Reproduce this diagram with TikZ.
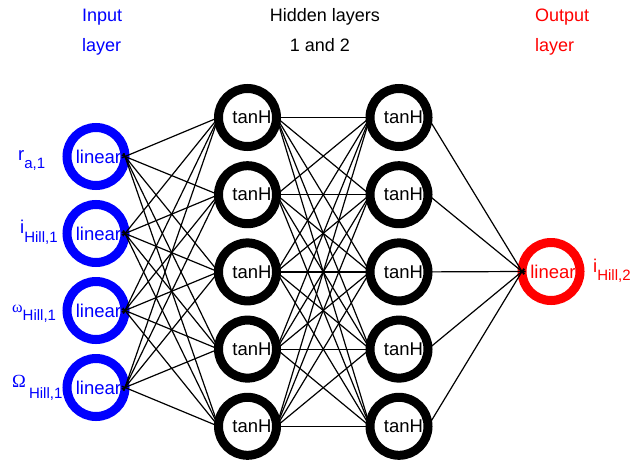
\documentclass[tikz,border=0pt]{standalone}
\usepackage{fontspec}
\setmainfont{Liberation Sans}
\newfontfamily\grk{Liberation Serif}
\newcommand\sublbl[3]{#1\raisebox{#3}{\fontsize{15}{15}\selectfont #2}}
\begin{document}
\begin{tikzpicture}[x=1pt,y=-1pt,
  neuron/.style={circle,line width=9pt,minimum size=58pt,inner sep=0pt,outer sep=0pt,font=\fontsize{18.5}{20}\selectfont},
  inl/.style={neuron,draw=blue,text=blue},
  hid/.style={neuron,draw=black},
  outl/.style={neuron,draw=red,text=red},
  conn/.style={line width=1.2pt,shorten <=-3.5pt,shorten >=-3.5pt},
  hdr/.style={font=\fontsize{18}{20}\selectfont,inner sep=0pt,anchor=base west},
  lab/.style={font=\fontsize{18.5}{20}\selectfont,inner sep=0pt,anchor=base west}]
\useasboundingbox (0,0) rectangle (631,461);
% headers
\node[hdr,text=blue] (h1) at (82,21) {Input};
\node[hdr,text=blue] (h2) at (82,51) {layer};
\node[hdr,anchor=base] (h3) at (325,21) {Hidden layers};
\node[hdr,anchor=base] (h4) at (320,51) {1 and 2};
\node[hdr,text=red] (h5) at (535,21) {Output};
\node[hdr,text=red] (h6) at (535,51) {layer};
% neurons
\foreach \i in {1,...,4} {
  \node[inl] (in\i) at (96,{156.5+77*(\i-1)}) {\hspace*{5pt}linear};
}
\foreach \j in {1,...,5} {
  \node[hid] (ha\j) at (247.5,{117.5+77.2*(\j-1)}) {\hspace*{9pt}tanH};
  \node[hid] (hb\j) at (399,{117.5+77.2*(\j-1)}) {\hspace*{9pt}tanH};
}
\node[outl] (out) at (551,271.5) {\hspace*{4pt}linear};
% connections
\foreach \i in {1,...,4} \foreach \j in {1,...,5} \draw[conn] (in\i.east) -- (ha\j.west);
\foreach \i in {1,...,5} \foreach \j in {1,...,5} \draw[conn] (ha\i.east) -- (hb\j.west);
\foreach \j in {1,...,5} \draw[conn] (hb\j.east) -- (out.west);
% labels
\node[lab,text=blue] (l1) at (18,160) {\sublbl{r}{a,1}{-8pt}};
\node[lab,text=blue] (l2) at (20,233) {\sublbl{i}{Hill,1}{-9pt}};
\node[lab,text=blue] (l3) at (12,312) {\sublbl{{\grk\fontsize{16}{16}\selectfont ω}}{Hill,1}{-8pt}};
\node[lab,text=blue] (l4) at (12,387) {\sublbl{{\grk Ω}\,}{Hill,1}{-11pt}};
\node[lab,text=red] (l5) at (593,272) {\sublbl{i}{Hill,2}{-8pt}};
\end{tikzpicture}
\end{document}
